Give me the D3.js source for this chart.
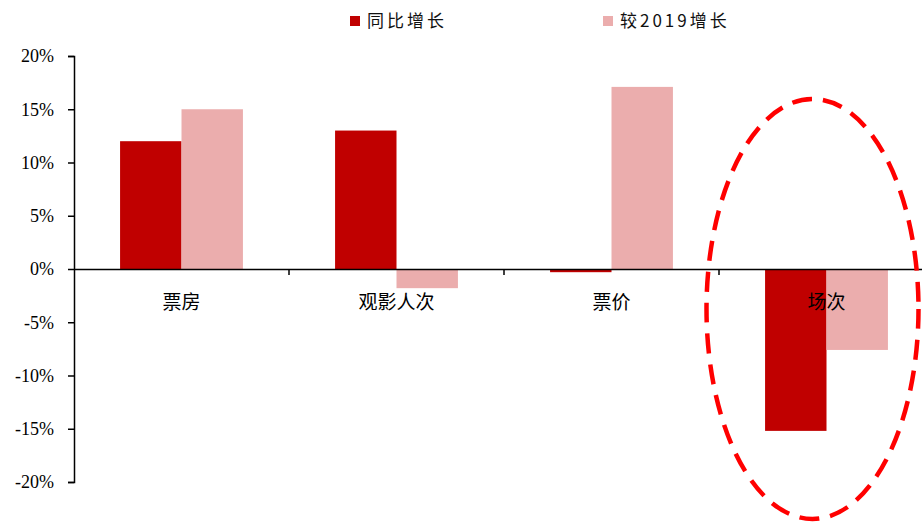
<!DOCTYPE html>
<html>
<head>
<meta charset="utf-8">
<script src="https://cdn.jsdelivr.net/npm/d3@7"></script>
<style>
  html, body { margin: 0; padding: 0; background: #fff; }
  svg { display: block; }
</style>
</head>
<body>
<svg id="chart" width="922" height="522"></svg>
<script>
// Chart data
const categories = ["票房", "观影人次", "票价", "场次"];
const seriesNames = ["同比增长", "较2019增长"];
const yoy = [12.0, 13.0, -0.3, -15.2];
const vs2019 = [15.0, -1.8, 17.1, -7.6];
const yTicks = [-20, -15, -10, -5, 0, 5, 10, 15, 20];

const colors = ["#C00000", "#EBADAD"];

const svg = d3.select("#chart");
const plot = { left: 74, right: 934, top: 56, bottom: 482 };

const x0 = d3.scaleBand().domain(categories).range([plot.left, plot.right]).paddingInner(0).paddingOuter(0);
const x1 = d3.scaleBand().domain(seriesNames).range([0, x0.bandwidth()]).paddingInner(0).paddingOuter(0.75);
const y = d3.scaleLinear().domain([-20, 20]).range([plot.bottom, plot.top]);

const rows = categories.map((c, i) => ({ cat: c, vals: [yoy[i], vs2019[i]] }));

// Bars
const groups = svg.append("g").selectAll("g").data(rows).join("g")
  .attr("transform", d => `translate(${x0(d.cat)},0)`);
groups.selectAll("rect")
  .data(d => d.vals.map((v, k) => ({ name: seriesNames[k], v, k })))
  .join("rect")
  .attr("x", d => x1(d.name))
  .attr("width", x1.bandwidth())
  .attr("y", d => y(Math.max(0, d.v)))
  .attr("height", d => Math.abs(y(d.v) - y(0)))
  .attr("fill", d => colors[d.k]);

// Y axis
const yAxis = d3.axisLeft(y).tickValues(yTicks).tickFormat(d => d + "%").tickSize(6).tickSizeOuter(6);
const gy = svg.append("g").attr("transform", `translate(${plot.left},0)`).call(yAxis);
gy.select(".domain").attr("stroke", "#000").attr("stroke-width", 1.5);
gy.selectAll(".tick line").attr("stroke", "#000").attr("stroke-width", 1.5);
gy.selectAll(".tick text")
  .attr("x", -20)
  .attr("font-family", "'Liberation Serif', 'Times New Roman', serif")
  .attr("font-size", 18)
  .attr("fill", "#000");

// Zero baseline with category ticks
const xAxis = d3.axisBottom(x0).tickSize(0).tickFormat("");
const gx = svg.append("g").attr("transform", `translate(0,${y(0)})`).call(xAxis);
gx.select(".domain").attr("stroke", "#000").attr("stroke-width", 1.5);
gx.selectAll(".tick").remove();
svg.append("g").selectAll("line")
  .data(categories.slice(1))
  .join("line")
  .attr("x1", d => x0(d)).attr("x2", d => x0(d))
  .attr("y1", y(0)).attr("y2", y(0) + 6)
  .attr("stroke", "#000").attr("stroke-width", 1.5);

// Category labels
svg.append("g").selectAll("text")
  .data(categories)
  .join("text")
  .attr("x", d => x0(d) + x0.bandwidth() / 2)
  .attr("y", y(0) + 40)
  .attr("text-anchor", "middle")
  .attr("font-family", "'Noto Sans CJK SC', sans-serif")
  .attr("font-size", 19)
  .attr("fill", "#000")
  .text(d => d);

// Legend
const legend = svg.append("g");
const legendX = [350, 603];
seriesNames.forEach((name, k) => {
  legend.append("rect")
    .attr("x", legendX[k]).attr("y", 16).attr("width", 10).attr("height", 10)
    .attr("fill", colors[k]);
  legend.append("text")
    .attr("x", legendX[k] + 17).attr("y", 27)
    .attr("font-family", "'Noto Sans CJK SC', sans-serif")
    .attr("font-size", 17)
    .attr("letter-spacing", 3)
    .attr("fill", "#111")
    .text(name);
});

// Dashed highlight around the last category
const last = categories[categories.length - 1];
svg.append("ellipse")
  .attr("cx", x0(last) + x0.bandwidth() / 2 - 14)
  .attr("cy", y(-3.75))
  .attr("rx", 106)
  .attr("ry", 210)
  .attr("fill", "none")
  .attr("stroke", "#FF0000")
  .attr("stroke-width", 4.5)
  .attr("stroke-dasharray", "20 11");
</script>
</body>
</html>
